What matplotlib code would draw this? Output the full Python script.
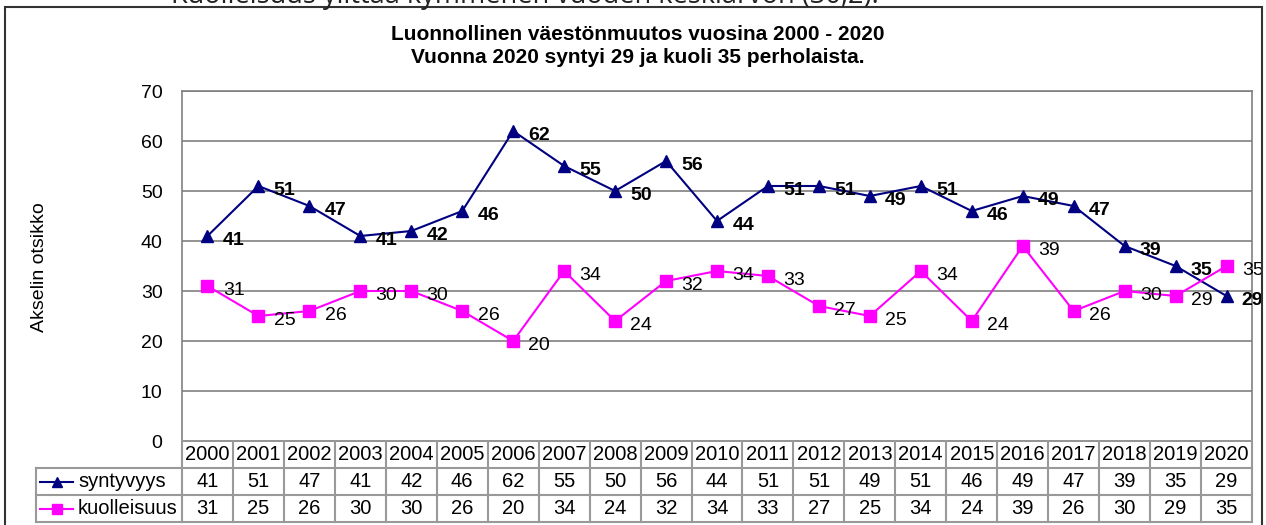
import matplotlib
matplotlib.use("Agg")
import matplotlib.pyplot as plt
from matplotlib.lines import Line2D
from matplotlib.patches import Rectangle

plt.rcParams['font.family'] = ['Liberation Sans', 'DejaVu Sans']

# data
years = [str(y) for y in range(2000, 2021)]
syntyvyys = [41, 51, 47, 41, 42, 46, 62, 55, 50, 56, 44, 51, 51, 49, 51, 46, 49, 47, 39, 35, 29]
kuolleisuus = [31, 25, 26, 30, 30, 26, 20, 34, 24, 32, 34, 33, 27, 25, 34, 24, 39, 26, 30, 29, 35]
series_names = ["syntyvyys", "kuolleisuus"]
yticks = [0, 10, 20, 30, 40, 50, 60, 70]
title = "Luonnollinen väestönmuutos vuosina 2000 - 2020\nVuonna 2020 syntyi 29 ja kuoli 35 perholaista."
ylabel = "Akselin otsikko"
top_text = "Kuolleisuus ylittää kymmenen vuoden keskiarvon (30,2)."

W, H = 1266, 525
fig = plt.figure(figsize=(W / 100, H / 100), dpi=100)

def fx(px):
    return px / W

def fy(py):
    return 1 - py / H

# outer chart border and the clipped text above it (cut off in the source image too)
fig.patches.append(Rectangle((fx(5), fy(530)), fx(1262) - fx(5), fy(7) - fy(530),
                             transform=fig.transFigure, fill=False, ec="#333333", lw=1.5))
fig.text(fx(525), fy(3), top_text, ha="center", va="baseline", fontsize=19.5, color="#222222",
         family=["Open Sans", "DejaVu Sans"])

# plot area
x0, x1, ytop, ybot = 182, 1252, 91, 441
ax = fig.add_axes([fx(x0), fy(ybot), fx(x1) - fx(x0), fy(ytop) - fy(ybot)])
n = len(years)
ax.set_xlim(-0.5, n - 0.5)
ax.set_ylim(0, 70)
ax.set_yticks(yticks)
ax.set_yticklabels([str(t) for t in yticks], fontsize=14)
ax.set_xticks([])
ax.tick_params(axis="y", length=0, pad=14)
for t in yticks[1:]:
    ax.axhline(t, color="#808080", lw=1.2, zorder=1)
for s in ax.spines.values():
    s.set_color("#808080")
    s.set_linewidth(1.2)

xs = list(range(n))
ax.plot(xs, syntyvyys, color="#000080", marker="^", ms=8, lw=1.5, zorder=3, clip_on=False)
ax.plot(xs, kuolleisuus, color="#FF00FF", marker="s", ms=8, lw=1.5, zorder=3, clip_on=False)
for x, v in zip(xs, syntyvyys):
    ax.annotate(str(v), (x, v), xytext=(11, -3), textcoords="offset points",
                ha="left", va="center", fontsize=14, fontweight="bold", zorder=4)
for x, v in zip(xs, kuolleisuus):
    ax.annotate(str(v), (x, v), xytext=(11, -3), textcoords="offset points",
                ha="left", va="center", fontsize=14, zorder=4)

# axis title, placed in figure pixels
fig.text(fx(40), fy(267), ylabel, rotation=90, ha="center", va="center", fontsize=14)

fig.text(fx(638), fy(46), title, ha="center", va="center", fontsize=15,
         fontweight="bold", linespacing=1.25)

# data table under the axis
grid_c = "#999999"
rows_y = [441, 468, 495, 522]
leg_x = 36
cw = (x1 - x0) / n

def hline(xa, xb, y):
    fig.add_artist(Line2D([fx(xa), fx(xb)], [fy(y), fy(y)], color=grid_c, lw=1.5))

def vline(x, ya, yb):
    fig.add_artist(Line2D([fx(x), fx(x)], [fy(ya), fy(yb)], color=grid_c, lw=1.5))

hline(leg_x, x1, rows_y[1])
hline(leg_x, x1, rows_y[2])
hline(leg_x, x1, rows_y[3])
vline(leg_x, rows_y[1], rows_y[3])
for i in range(n + 1):
    vline(x0 + i * cw, rows_y[0], rows_y[3])

for i, yr in enumerate(years):
    cx = x0 + (i + 0.5) * cw
    fig.text(fx(cx), fy((rows_y[0] + rows_y[1]) / 2), yr, ha="center", va="center", fontsize=14.5)
    fig.text(fx(cx), fy((rows_y[1] + rows_y[2]) / 2), str(syntyvyys[i]), ha="center", va="center", fontsize=14.5)
    fig.text(fx(cx), fy((rows_y[2] + rows_y[3]) / 2), str(kuolleisuus[i]), ha="center", va="center", fontsize=14.5)

for r, (name, col, mk) in enumerate(zip(series_names, ["#000080", "#FF00FF"], ["^", "s"])):
    yc = fy((rows_y[r + 1] + rows_y[r + 2]) / 2)
    fig.add_artist(Line2D([fx(40), fx(73)], [yc, yc], color=col, lw=1.5))
    fig.add_artist(Line2D([fx(56.5)], [yc], color=col, marker=mk, ms=7, lw=0))
    fig.text(fx(78), yc, name, ha="left", va="center", fontsize=14.5)

fig.savefig("out.png", dpi=100)
